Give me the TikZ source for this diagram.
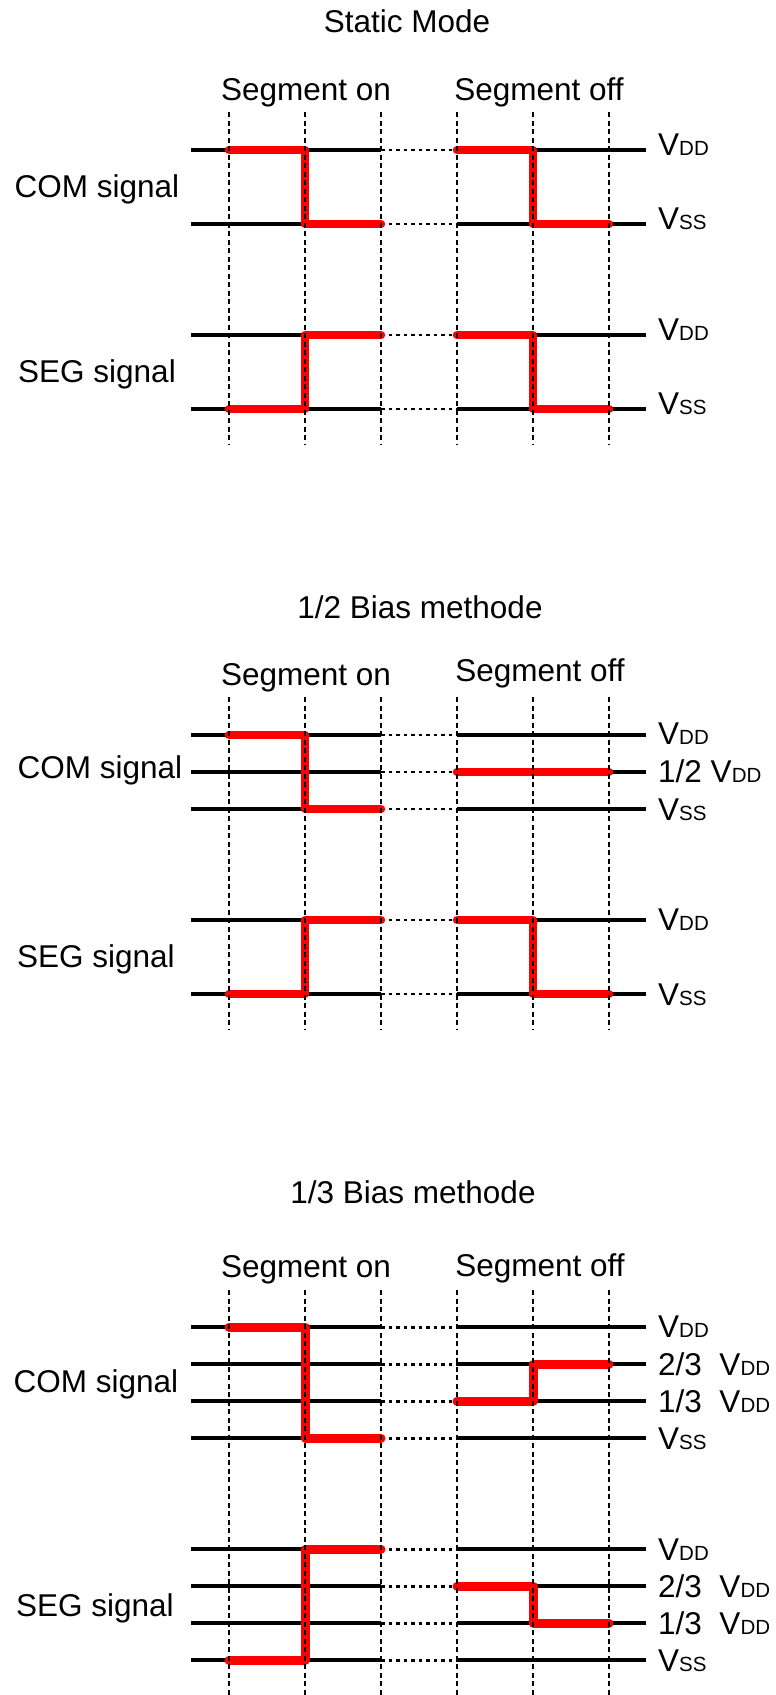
\documentclass[tikz,border=0pt]{standalone}
\usepackage{fontspec}
\setmainfont{Liberation Sans}
\newcommand{\myVDD}{V{\fontsize{20.5}{21}\selectfont DD}}
\newcommand{\myVSS}{V{\fontsize{20.5}{21}\selectfont SS}}
\newcommand{\lvl}[1]{%
  \draw[axisline] (191,#1) -- (381,#1);
  \draw[dotline] (381,#1) -- (457,#1);
  \draw[axisline] (457,#1) -- (646,#1);}
\newcommand{\vgrid}[2]{%
  \foreach \xx in {229,305,381,457,533,609} {\draw[vdash] (\xx,#1) -- (\xx,#2);}}
\begin{document}
\begin{tikzpicture}[x=1pt,y=-1pt,
  axisline/.style={line width=3.1pt, black},
  dotline/.style={line width=2.8pt, black, dash pattern=on 3.5pt off 4pt},
  vdash/.style={line width=2.8pt, black, dash pattern=on 5pt off 3.5pt},
  sig/.style={line width=8.5pt, red, line cap=round, line join=round},
  big/.style={font=\fontsize{31.5}{36}\selectfont, inner sep=0pt},
  lab/.style={big, anchor=base west},
  ttl/.style={big, anchor=base},
]
\useasboundingbox (0,0) rectangle (776,1695);

% ================= Static Mode =================
\node[ttl] (t1) at (407,32) {Static Mode};
\node[ttl] (on1) at (306,100) {Segment on};
\node[ttl] (off1) at (539,100) {Segment off};
\node[ttl] (com1) at (97,197) {COM signal};
\node[ttl] (seg1) at (97,382) {SEG signal};
\lvl{150}\lvl{224}\lvl{335}\lvl{409}
\draw[sig] (229,150) -- (305,150) -- (305,224) -- (381,224);
\draw[sig] (457,150) -- (533,150) -- (533,224) -- (609,224);
\draw[sig] (229,409) -- (305,409) -- (305,335) -- (381,335);
\draw[sig] (457,335) -- (533,335) -- (533,409) -- (609,409);
\vgrid{112}{444}
\node[lab] (l1a) at (658,155) {\myVDD};
\node[lab] (l1b) at (658,229) {\myVSS};
\node[lab] (l1c) at (658,340) {\myVDD};
\node[lab] (l1d) at (658,414) {\myVSS};

% ================= 1/2 Bias =================
\node[ttl] (t2) at (420,618) {1/2 Bias methode};
\node[ttl] (on2) at (306,685) {Segment on};
\node[ttl] (off2) at (540,681) {Segment off};
\node[ttl] (com2) at (100,778) {COM signal};
\node[ttl] (seg2) at (96,967) {SEG signal};
\lvl{735}\lvl{772}\lvl{809}\lvl{920}\lvl{994}
\draw[sig] (229,735) -- (305,735) -- (305,809) -- (381,809);
\draw[sig] (457,772) -- (609,772);
\draw[sig] (229,994) -- (305,994) -- (305,920) -- (381,920);
\draw[sig] (457,920) -- (533,920) -- (533,994) -- (609,994);
\vgrid{697}{1029}
\node[lab] (l2a) at (658,744) {\myVDD};
\node[lab] (l2b) at (658,782) {1/2 \myVDD};
\node[lab] (l2c) at (658,820) {\myVSS};
\node[lab] (l2d) at (658,930) {\myVDD};
\node[lab] (l2e) at (658,1005) {\myVSS};

% ================= 1/3 Bias =================
\begin{scope}[axisline/.append style={line width=3.5pt},
              dotline/.append style={line width=3pt},
              vdash/.append style={line width=2.9pt},
              sig/.append style={line width=9pt}]
\node[ttl] (t3) at (413,1203) {1/3 Bias methode};
\node[ttl] (on3) at (306,1277) {Segment on};
\node[ttl] (off3) at (540,1276) {Segment off};
\node[ttl] (com3) at (96,1392) {COM signal};
\node[ttl] (seg3) at (95,1616) {SEG signal};
\lvl{1327}\lvl{1364}\lvl{1401}\lvl{1438}
\lvl{1549}\lvl{1586}\lvl{1623}\lvl{1660}
\draw[sig] (229,1327) -- (305,1327) -- (305,1438) -- (381,1438);
\draw[sig] (457,1401) -- (533,1401) -- (533,1364) -- (609,1364);
\draw[sig] (229,1660) -- (305,1660) -- (305,1549) -- (381,1549);
\draw[sig] (457,1586) -- (533,1586) -- (533,1623) -- (609,1623);
\vgrid{1290}{1695}
\node[lab] (l3a) at (658,1337) {\myVDD};
\node[lab] (l3b) at (658,1375) {2/3\ \ \myVDD};
\node[lab] (l3c) at (658,1412) {1/3\ \ \myVDD};
\node[lab] (l3d) at (658,1449) {\myVSS};
\node[lab] (l3e) at (658,1560) {\myVDD};
\node[lab] (l3f) at (658,1597) {2/3\ \ \myVDD};
\node[lab] (l3g) at (658,1634) {1/3\ \ \myVDD};
\node[lab] (l3h) at (658,1671) {\myVSS};
\end{scope}
\end{tikzpicture}
\end{document}
